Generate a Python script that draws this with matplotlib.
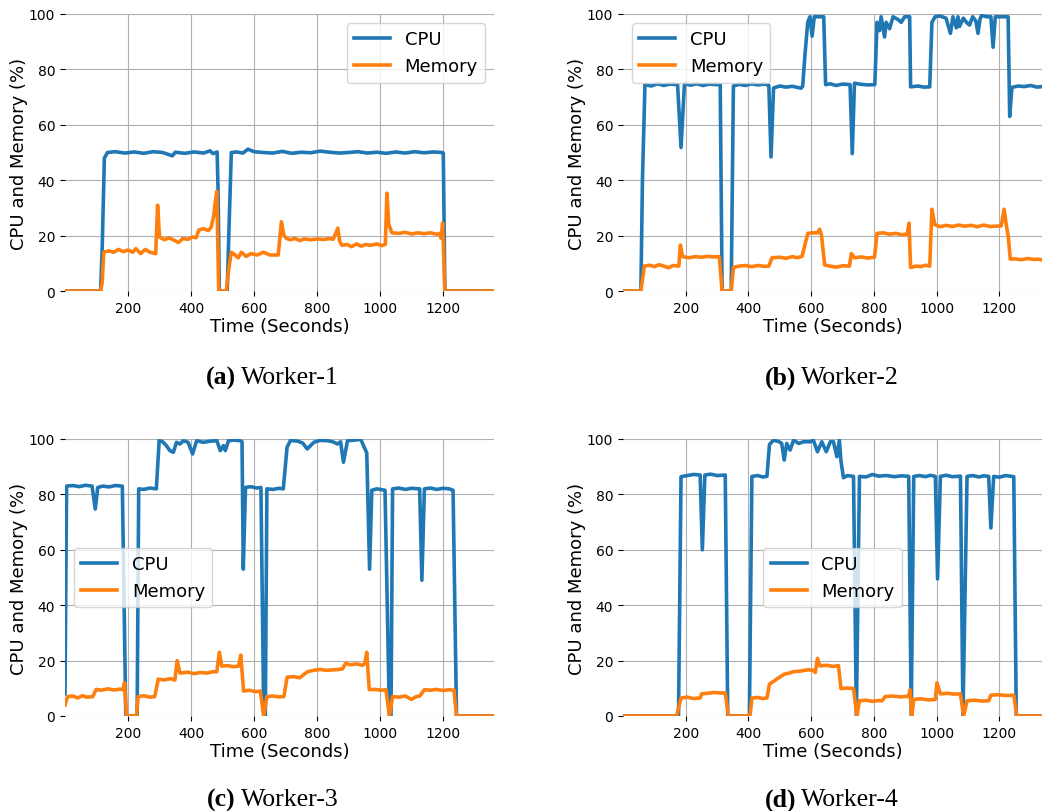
import matplotlib
matplotlib.use("Agg")
import matplotlib.pyplot as plt

# (time in seconds, percent) points
a_cpu = [(0, 0), (113, 0), (118, 15), (125, 48), (135, 50), (160, 50.3), (190, 49.8), (220, 50.2),
         (250, 49.7), (280, 50.3), (310, 50), (341, 48.8), (350, 50.1), (380, 49.7), (410, 50.2),
         (440, 49.8), (460, 50.6), (470, 49.6), (483, 50.2), (486, 36), (490, 0), (515, 0), (520, 20),
         (528, 50), (545, 50.2), (565, 49.8), (581, 51.2), (600, 50.3), (630, 50), (660, 49.8),
         (690, 50.4), (720, 49.7), (750, 50.1), (780, 49.9), (810, 50.5), (840, 50.1), (870, 49.8),
         (900, 50), (930, 50.3), (960, 49.8), (990, 50.1), (1020, 49.7), (1050, 50.2), (1080, 49.8),
         (1110, 50.3), (1140, 49.9), (1170, 50.2), (1198, 50), (1201, 49.8), (1206, 0), (1362, 0)]
a_mem = [(0, 0), (113, 0), (118, 3), (123, 14), (140, 14.5), (155, 14), (170, 15), (185, 14.2),
         (200, 14.8), (215, 14), (225, 15.3), (240, 13.5), (255, 15), (270, 14), (288, 13.5), (294, 31),
         (300, 19.5), (315, 18.5), (330, 19.2), (345, 18.4), (360, 17.5), (375, 19), (390, 18.6),
         (405, 19.5), (416, 19.2), (425, 22), (440, 22.5), (455, 21.8), (464, 23), (472, 27), (477, 32),
         (482, 36), (488, 0), (512, 0), (520, 8), (528, 14), (540, 13), (550, 12), (560, 14),
         (575, 12.5), (590, 13.5), (610, 13), (630, 14), (650, 13), (677, 13), (687, 25), (695, 20),
         (703, 19), (715, 18.5), (730, 19), (745, 18.2), (760, 18.8), (780, 18.5), (800, 18.8),
         (820, 18.6), (840, 18.9), (852, 18.7), (866, 22.7), (872, 18), (879, 16.5), (895, 16.8),
         (910, 16), (925, 17), (940, 16.2), (955, 16.8), (970, 16.5), (990, 17), (1005, 16.4),
         (1017, 16.8), (1022, 35.3), (1028, 24), (1038, 21), (1060, 20.8), (1080, 21.2), (1100, 20.6),
         (1120, 21), (1140, 20.7), (1160, 21), (1180, 20.5), (1190, 20.8), (1194, 19), (1199, 24.5),
         (1206, 0), (1362, 0)]

b_cpu = [(0, 0), (57, 0), (62, 40), (70, 74.5), (90, 74), (110, 74.8), (130, 74.2), (150, 74.7),
         (174, 74.5), (185, 51.8), (196, 74.9), (215, 74.3), (235, 74.8), (255, 74.2), (275, 74.7),
         (295, 74.5), (310, 74.5), (316, 0), (345, 0), (352, 74), (370, 74.6), (390, 74.2), (410, 74.8),
         (430, 74.4), (450, 74.7), (465, 74.3), (472, 48.4), (480, 73.3), (500, 74), (520, 73.6),
         (540, 73.9), (568, 73.2), (573, 74), (580, 85), (589, 97), (596, 99), (603, 92), (610, 99),
         (625, 99), (640, 99), (646, 74.5), (660, 74.8), (680, 74.2), (700, 74.7), (724, 74.5),
         (731, 49.6), (738, 75), (760, 74.6), (780, 74.4), (803, 74.5), (810, 97), (818, 94),
         (823, 99), (834, 91.7), (839, 97), (850, 94.7), (861, 99), (877, 98), (887, 97), (898, 99),
         (914, 99), (917, 73.7), (940, 74), (960, 73.6), (978, 73.7), (985, 97), (995, 99),
         (1010, 99.3), (1030, 98.5), (1044, 93), (1052, 99), (1063, 95), (1068, 99), (1073, 95.5),
         (1085, 98.5), (1095, 97), (1105, 96), (1115, 99), (1125, 97.5), (1132, 93), (1138, 98),
         (1143, 99.5), (1160, 99), (1173, 99), (1180, 88), (1187, 99), (1200, 99), (1228, 99),
         (1233, 63), (1240, 73.5), (1260, 74), (1280, 73.8), (1300, 74.2), (1320, 73.6), (1336, 73.8)]
b_mem = [(0, 0), (57, 0), (62, 4), (68, 9), (85, 9.3), (100, 8.8), (115, 9.5), (130, 9), (145, 8.4),
         (160, 9.2), (178, 9), (183, 16.6), (190, 12.4), (210, 12), (230, 12.4), (250, 12.2),
         (270, 12.5), (290, 12.3), (307, 12.4), (316, 0), (345, 0), (352, 8.5), (370, 9), (390, 9.2),
         (410, 8.8), (430, 9.2), (450, 8.9), (465, 9), (475, 12), (500, 12.2), (520, 11.8),
         (540, 12.4), (555, 12), (571, 12.5), (589, 20.8), (605, 21), (621, 21), (627, 22.3),
         (633, 20), (643, 9.4), (660, 9), (680, 8.6), (700, 9.1), (722, 9), (728, 13.5), (738, 12),
         (760, 12.3), (780, 11.9), (802, 12.2), (810, 20.8), (830, 21), (850, 20.5), (870, 20.8),
         (890, 20.3), (906, 20.6), (912, 24.5), (917, 8.5), (935, 9), (950, 8.8), (965, 9.3),
         (978, 9), (985, 29.5), (994, 24), (1010, 23.2), (1030, 23.7), (1050, 23.3), (1070, 23.8),
         (1090, 23.4), (1110, 23.7), (1130, 23.2), (1150, 23.8), (1170, 23.3), (1206, 23.5),
         (1215, 29.5), (1222, 24), (1228, 20), (1235, 11.5), (1250, 11.6), (1270, 11.3),
         (1290, 11.7), (1310, 11.4), (1325, 11.5), (1336, 11.2)]

c_cpu = [(0, 8), (5, 83), (25, 83.2), (45, 82.8), (65, 83.3), (86, 83), (96, 74.7), (104, 82.5),
         (120, 83), (140, 82.7), (160, 83.2), (182, 83), (193, 0), (229, 0), (234, 82), (250, 81.8),
         (270, 82.3), (290, 82), (299, 99.5), (310, 99), (322, 97.6), (333, 95.8), (344, 95.2),
         (354, 98.8), (365, 98.2), (376, 99.4), (391, 98.8), (405, 94.6), (418, 99.4), (439, 98.8),
         (460, 99.2), (482, 99.4), (493, 95.8), (503, 97.6), (509, 95.8), (519, 99.4), (535, 99.6),
         (556, 99.4), (562, 99), (566, 53), (573, 82.5), (590, 82.8), (608, 82.3), (622, 82.5),
         (631, 0), (636, 0), (641, 82), (660, 81.8), (680, 82.2), (693, 82), (705, 97), (716, 99.5),
         (740, 99.2), (755, 98.5), (769, 96.4), (790, 98.8), (810, 99.5), (833, 99.4), (850, 99),
         (865, 98.2), (875, 99), (884, 91.6), (897, 99.4), (920, 99.6), (939, 99.9), (950, 97),
         (958, 95), (967, 53), (974, 81.5), (990, 82), (1005, 81.7), (1016, 81.5), (1030, 0),
         (1035, 0), (1040, 82), (1060, 82.3), (1080, 81.8), (1100, 82.2), (1126, 82), (1133, 49),
         (1141, 82), (1160, 82.3), (1180, 81.8), (1200, 82.2), (1220, 82), (1232, 81.5), (1243, 0),
         (1362, 0)]
c_mem = [(0, 4), (8, 7), (25, 7.2), (40, 6.5), (55, 7.3), (70, 6.8), (88, 7), (99, 9.6), (115, 9.3),
         (135, 9.8), (155, 9.4), (175, 9.7), (184, 9.5), (189, 12), (195, 0), (227, 0), (232, 7),
         (250, 7.3), (270, 6.8), (285, 7), (296, 13.3), (315, 13), (335, 13.5), (349, 13),
         (356, 20), (365, 15.5), (390, 15.8), (410, 15.3), (430, 15.7), (450, 15.5), (470, 16),
         (482, 16), (490, 23), (498, 18), (515, 18.2), (535, 17.8), (551, 18), (558, 22),
         (567, 9), (585, 9.3), (605, 8.8), (620, 9), (631, 0), (641, 7), (660, 7.2), (680, 6.9),
         (695, 7), (705, 14), (725, 14.2), (745, 13.8), (753, 14.5), (770, 16), (790, 16.5),
         (810, 16.8), (830, 16.5), (860, 16.7), (881, 17), (891, 19), (905, 18.5), (925, 18.8),
         (945, 18.3), (952, 19), (958, 23), (966, 9.5), (985, 9.6), (1005, 9.3), (1019, 9.5),
         (1030, 0), (1040, 7), (1060, 6.8), (1080, 7.2), (1100, 6), (1115, 7), (1126, 7.2),
         (1141, 9.5), (1160, 9.3), (1180, 9.6), (1200, 9.2), (1220, 9.5), (1235, 9.3), (1243, 0),
         (1362, 0)]

d_cpu = [(0, 0), (177, 0), (185, 86.4), (205, 86.8), (225, 87.2), (246, 87), (253, 60), (261, 87),
         (280, 87.3), (300, 86.8), (326, 87), (334, 0), (403, 0), (411, 86.5), (430, 86.8),
         (445, 86.3), (459, 86.5), (467, 98), (480, 99.6), (498, 99), (506, 98.4), (514, 92.4),
         (522, 98.4), (533, 96), (544, 99.6), (560, 98.4), (576, 99), (597, 99), (607, 99.6),
         (620, 95.4), (634, 99), (648, 95.4), (661, 99), (671, 99), (682, 93.6), (690, 99.6),
         (695, 92), (703, 86), (715, 86.8), (735, 86.5), (744, 0), (754, 86.5), (775, 86.3),
         (795, 87.2), (815, 86.6), (840, 86.8), (865, 86.4), (890, 86.7), (911, 86.5), (919, 0),
         (927, 86.5), (945, 86.8), (965, 86.4), (980, 86.9), (996, 86.5), (1003, 49.5),
         (1012, 86.5), (1030, 86.9), (1050, 86.4), (1076, 86.6), (1084, 0), (1097, 86.5),
         (1115, 86.8), (1135, 86.3), (1150, 86.7), (1166, 86.5), (1173, 67.9), (1182, 86.5),
         (1200, 86.2), (1220, 86.8), (1246, 86.4), (1254, 0), (1336, 0)]
d_mem = [(0, 0), (171, 0), (185, 6.5), (205, 6.8), (225, 6.3), (246, 6.5), (251, 8), (270, 8.2),
         (290, 8.5), (310, 8.3), (326, 8.4), (336, 0), (405, 0), (411, 6.5), (430, 6.7), (445, 6.3),
         (459, 6.5), (467, 11.5), (480, 12.5), (490, 13.3), (506, 14.5), (514, 15.1), (530, 15.5),
         (544, 16), (565, 16.2), (590, 16.7), (606, 16.5), (613, 15.7), (620, 20.8), (628, 18.1),
         (650, 18.3), (670, 17.9), (687, 18.2), (695, 9.9), (715, 10.1), (735, 9.9), (746, 0),
         (754, 5.5), (775, 5.7), (795, 5.3), (815, 5.6), (826, 5.5), (836, 7), (860, 7.2),
         (885, 6.9), (905, 7.1), (911, 7), (915, 9.5), (921, 0), (927, 6), (950, 6.2), (975, 5.8),
         (996, 6), (1001, 12), (1012, 8), (1035, 8.2), (1055, 7.9), (1076, 8), (1086, 0),
         (1097, 5.5), (1120, 5.7), (1145, 5.4), (1166, 5.5), (1173, 7.5), (1195, 7.7), (1220, 7.4),
         (1246, 7.5), (1256, 0), (1336, 0)]

panels = [
    (a_cpu, a_mem, [65, 292, 494, 15], "upper right", "(a)", "Worker-1", 236, 378),
    (b_cpu, b_mem, [623, 292, 1042, 15], "upper left", "(b)", "Worker-2", 796, 378),
    (c_cpu, c_mem, [65, 717, 494, 440], "center left", "(c)", "Worker-3", 236, 800),
    (d_cpu, d_mem, [623, 717, 1042, 440], "center", "(d)", "Worker-4", 796, 800),
]

W, H = 1042, 812
fig = plt.figure(figsize=(W / 100, H / 100), dpi=100)

for cpu, mem, box, loc, tag, name, cx, cy in panels:
    x0, y0, x1, y1 = box
    ax = fig.add_axes([x0 / W, 1 - y0 / H, (x1 - x0) / W, (y0 - y1) / H])
    t1, v1 = zip(*cpu)
    t2, v2 = zip(*mem)
    ax.plot(t1, v1, color="tab:blue", lw=2.6, label="CPU")
    ax.plot(t2, v2, color="tab:orange", lw=2.6, label="Memory")
    ax.set_xlim(0, t1[-1])
    ax.set_ylim(0, 100)
    ax.set_xticks([200, 400, 600, 800, 1000, 1200])
    ax.set_yticks([0, 20, 40, 60, 80, 100])
    ax.tick_params(labelsize=10)
    ax.grid(True, color="#b0b0b0", lw=0.8)
    for s in ax.spines.values():
        s.set_visible(False)
    ax.set_xlabel("Time (Seconds)", fontsize=13, labelpad=2)
    ax.set_ylabel("CPU and Memory (%)", fontsize=13, labelpad=1)
    ax.legend(loc=loc, fontsize=13)

    # sub-figure captions
    fig.text(cx / W, 1 - cy / H, tag, ha="right", va="center", fontsize=18.5,
             family="Liberation Serif", weight="bold")
    fig.text((cx + 5) / W, 1 - cy / H, name, ha="left", va="center", fontsize=18.5,
             family="Liberation Serif")

fig.savefig("out.png", dpi=100)
